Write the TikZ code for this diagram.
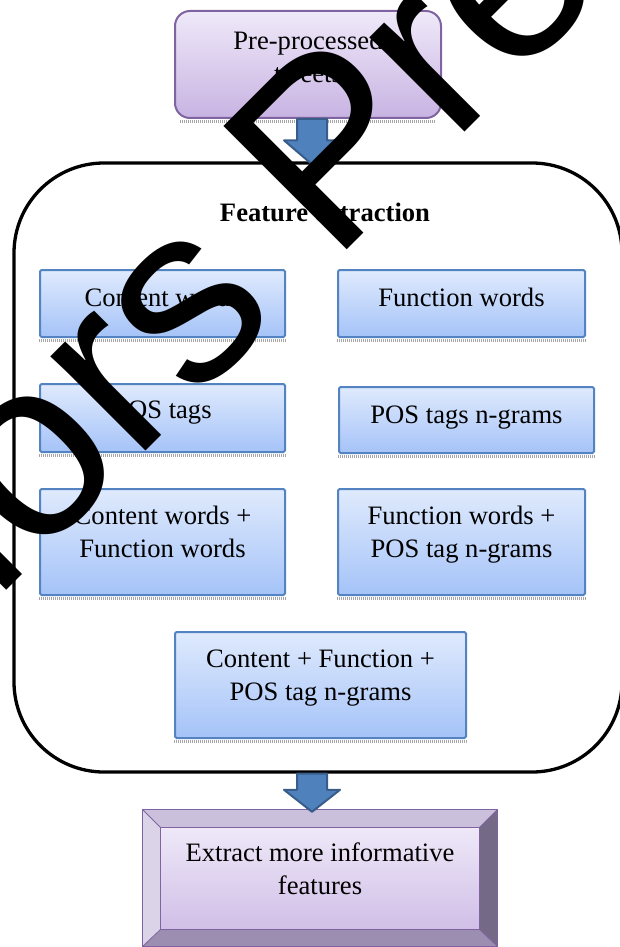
\documentclass[tikz,border=0pt]{standalone}
\usepackage{fontspec}
\setmainfont{Liberation Serif}
\newfontfamily\wmfont{Liberation Sans}
\usetikzlibrary{calc}

\definecolor{blueTop}{HTML}{DFEAFD}
\definecolor{blueBot}{HTML}{A5C3F8}
\definecolor{blueLine}{HTML}{5383C0}
\definecolor{lilacTop}{HTML}{EFE9F9}
\definecolor{lilacBot}{HTML}{C8B3E2}
\definecolor{lilacLine}{HTML}{8064A2}
\definecolor{arrowFill}{HTML}{4F81BD}
\definecolor{arrowLine}{HTML}{385D8A}
\definecolor{bevTop}{HTML}{CBC0DB}
\definecolor{bevLeft}{HTML}{DBD3E7}
\definecolor{bevRight}{HTML}{746987}
\definecolor{bevBot}{HTML}{9C8EB0}
\definecolor{faceTop}{HTML}{EEE8F8}
\definecolor{faceBot}{HTML}{D1BFE7}

\newcommand\twolines[2]{\begin{tabular}[t]{@{}c@{}}#1\\#2\end{tabular}}

\tikzset{
  featbox/.style={draw=blueLine, line width=2pt, top color=blueTop, bottom color=blueBot,
    rounded corners=1.5pt, inner sep=0pt},
  inputbox/.style={draw=lilacLine, line width=2pt, top color=lilacTop, bottom color=lilacBot,
    rounded corners=15pt, inner sep=0pt},
  groupbox/.style={draw=black, line width=3.3pt, rounded corners=90pt, inner sep=0pt},
  lbl/.style={font=\fontsize{26.6}{33}\selectfont, align=center, inner sep=0pt,
    anchor=base, text=black},
  dotshadow/.style={draw=gray!70, line width=2.6pt, dash pattern=on 1pt off 1pt},
  blockarrow/.style={fill=arrowFill, draw=arrowLine, line width=2pt, line join=round},
  wm/.style={font=\wmfont\fontsize{253.5}{253.5}\selectfont, rotate=45,
    anchor=base west, inner sep=0pt, text=black}
}

% block arrow from #1 (top middle) to #2 (tip), head length #3
\newcommand\blockarrowpath[3]{%
  \draw[blockarrow] ($(#1)+(-15,0)$) -- ($(#2)+(-15,-#3)$) -- ($(#2)+(-28,-#3)$)
    -- (#2) -- ($(#2)+(28,-#3)$) -- ($(#2)+(15,-#3)$) -- ($(#1)+(15,0)$) -- cycle;}

\begin{document}
\begin{tikzpicture}[x=1pt,y=-1pt]
\useasboundingbox (0,0) rectangle (619,947);

% input box
\node[inputbox, minimum width=266, minimum height=107] (pre) at (308,64.5) {};
\draw[dotshadow] ([yshift=-2.4pt,xshift=6pt]pre.south west) -- ([yshift=-2.4pt,xshift=-6pt]pre.south east);
\node[lbl] (pretxt) at (308,50) {\twolines{Pre-processed}{tweets}};

% feature extraction group
\node[groupbox, minimum width=608, minimum height=609] (fe) at (318,467.5) {};
\node[lbl, font=\fontsize{26.6}{33}\selectfont\bfseries] (fetitle) at (325,221) {Feature extraction};

% feature boxes
\node[featbox, minimum width=245, minimum height=67] (cw) at (162.5,303.5) {};
\node[featbox, minimum width=247, minimum height=67] (fw) at (461.5,303.5) {};
\node[featbox, minimum width=245, minimum height=68] (pos) at (162.5,418) {};
\node[featbox, minimum width=255, minimum height=66] (posn) at (466.5,420) {};
\node[featbox, minimum width=245, minimum height=106] (cf) at (162.5,542) {};
\node[featbox, minimum width=247, minimum height=106] (fp) at (461.5,542) {};
\node[featbox, minimum width=291, minimum height=106] (all) at (320.5,685) {};

\foreach \b in {cw,fw,pos,posn,cf,fp,all}
  \draw[dotshadow] ([yshift=-2.4pt]\b.south west) -- ([yshift=-2.4pt]\b.south east);

\node[lbl] (cwtxt) at (162.5,306) {Content words};
\node[lbl] (fwtxt) at (461.5,306) {Function words};
\node[lbl] (postxt) at (162.5,418) {POS tags};
\node[lbl] (posntxt) at (466.5,423) {POS tags n-grams};
\node[lbl] (cftxt) at (162.5,524) {\twolines{Content words +}{Function words}};
\node[lbl] (fptxt) at (461.5,524) {\twolines{Function words +}{POS tag n-grams}};
\node[lbl] (alltxt) at (320.5,667) {\twolines{Content + Function +}{POS tag n-grams}};

% output box with bevelled frame
\node[minimum width=354, minimum height=136, inner sep=0pt] (ext) at (320,878) {};
\node[minimum width=318, minimum height=101, inner sep=0pt] (extface) at (320,878.5) {};
\fill[bevTop] (ext.north west) -- (ext.north east) -- (extface.north east) -- (extface.north west) -- cycle;
\fill[bevLeft] (ext.north west) -- (extface.north west) -- (extface.south west) -- (ext.south west) -- cycle;
\fill[bevRight] (ext.north east) -- (ext.south east) -- (extface.south east) -- (extface.north east) -- cycle;
\fill[bevBot] (ext.south west) -- (extface.south west) -- (extface.south east) -- (ext.south east) -- cycle;
\shade[top color=faceTop, bottom color=faceBot] (extface.north west) rectangle (extface.south east);
\draw[lilacLine, line width=1.2pt] (ext.north west) rectangle (ext.south east);
\draw[lilacLine, line width=1.2pt] (extface.north west) rectangle (extface.south east);
\draw[lilacLine, line width=0.8pt] (ext.north west) -- (extface.north west)
  (ext.north east) -- (extface.north east) (ext.south west) -- (extface.south west)
  (ext.south east) -- (extface.south east);
\node[lbl] (exttxt) at (320,861) {\twolines{Extract more informative}{features}};

% connecting block arrows
\coordinate (a1s) at ($(pre.south)+(4,0)$);
\coordinate (a1e) at ($(fe.north)+(-6,3)$);
\blockarrowpath{a1s}{a1e}{24}
\coordinate (a2s) at ($(fe.south)+(-6,0)$);
\coordinate (a2e) at ($(ext.north)+(-8,2)$);
\blockarrowpath{a2s}{a2e}{22}

% overlaid watermark
\begin{scope}
  \clip (0,0) rectangle (619,947);
  \node[wm] (mark) at (-335,932) {Authors Preprint};
\end{scope}
\end{tikzpicture}
\end{document}
